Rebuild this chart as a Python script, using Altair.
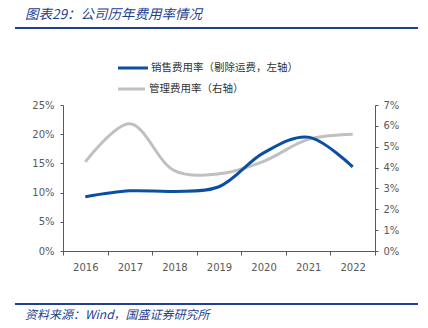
import altair as alt
import pandas as pd

years = ["2016", "2017", "2018", "2019", "2020", "2021", "2022"]
sales_rate = [0.093, 0.103, 0.102, 0.110, 0.168, 0.195, 0.144]
admin_rate = [0.0427, 0.061, 0.0385, 0.037, 0.043, 0.0535, 0.056]
sales_name = "销售费用率（剔除运费，左轴）"
admin_name = "管理费用率（右轴）"
left_ticks = [0, 0.05, 0.10, 0.15, 0.20, 0.25]
right_ticks = [0, 0.01, 0.02, 0.03, 0.04, 0.05, 0.06, 0.07]
title_text = "图表29：公司历年费用率情况"
source_text = "资料来源：Wind，国盛证券研究所"

BLUE = "#0b4ea2"
GRAY = "#c0c0c0"
HEAD = "#1f3f8f"
AX = "#595959"
FONT = "DejaVu Sans"
CJK = "Noto Sans CJK SC"

df = pd.DataFrame({"year": years, "sales": sales_rate, "admin": admin_rate})

xscale = alt.Scale(type="band", paddingInner=0, paddingOuter=0)
xaxis = alt.Axis(title=None, tickBand="extent", labelAngle=0, labelFont=FONT,
                 labelFontSize=10, labelColor=AX, domainColor=AX, tickColor=AX,
                 tickSize=4, labelPadding=7, grid=False)

base = alt.Chart(df)

sales_line = base.mark_line(color=BLUE, strokeWidth=3, interpolate="catmull-rom").encode(
    x=alt.X("year:O", scale=xscale, axis=xaxis),
    y=alt.Y("sales:Q", scale=alt.Scale(domain=[0, 0.25], nice=False),
            axis=alt.Axis(title=None, values=left_ticks, format=".0%", orient="left",
                          labelFont=FONT, labelFontSize=10, labelColor=AX,
                          domainColor=AX, tickColor=AX, tickSize=3, labelPadding=6,
                          grid=False)),
)

admin_line = base.mark_line(color=GRAY, strokeWidth=3, interpolate="catmull-rom").encode(
    x=alt.X("year:O", scale=xscale, axis=xaxis),
    y=alt.Y("admin:Q", scale=alt.Scale(domain=[0, 0.07], nice=False),
            axis=alt.Axis(title=None, values=right_ticks, format=".0%", orient="right",
                          labelFont=FONT, labelFontSize=10, labelColor=AX,
                          domainColor=AX, tickColor=AX, tickSize=3, labelPadding=5,
                          grid=False)),
)

lines = alt.layer(admin_line, sales_line).resolve_scale(y="independent")

deco_df = pd.DataFrame({"k": [0]})
deco = alt.Chart(deco_df)

title = deco.mark_text(text=title_text, font=CJK, fontSize=13.5, fontStyle="italic",
                       color=HEAD, align="left", baseline="middle").encode(
    x=alt.value(-38), y=alt.value(-90))
head_rule = deco.mark_rule(color=HEAD, strokeWidth=2).encode(
    x=alt.value(-48), x2=alt.value(355), y=alt.value(-77))
foot_rule = deco.mark_rule(color=HEAD, strokeWidth=2).encode(
    x=alt.value(-48), x2=alt.value(355), y=alt.value(199))
source = deco.mark_text(text=source_text, font=CJK, fontSize=12, fontStyle="italic",
                        color=HEAD, align="left", baseline="middle").encode(
    x=alt.value(-38), y=alt.value(210))

leg1_rule = deco.mark_rule(color=BLUE, strokeWidth=3).encode(
    x=alt.value(55), x2=alt.value(85), y=alt.value(-37))
leg1_text = deco.mark_text(text=sales_name, font=CJK, fontSize=10.5, color="#333333",
                           align="left", baseline="middle").encode(
    x=alt.value(88), y=alt.value(-37))
leg2_rule = deco.mark_rule(color=GRAY, strokeWidth=3).encode(
    x=alt.value(55), x2=alt.value(82), y=alt.value(-16))
leg2_text = deco.mark_text(text=admin_name, font=CJK, fontSize=10.5, color="#333333",
                           align="left", baseline="middle").encode(
    x=alt.value(86), y=alt.value(-16))

chart = alt.layer(
    lines, title, head_rule, foot_rule, source, leg1_rule, leg1_text, leg2_rule, leg2_text
).resolve_scale(y="independent").properties(
    width=312, height=146,
    autosize=alt.AutoSizeParams(type="none"),
    padding={"left": 63, "top": 105, "right": 53, "bottom": 77},
    background="white",
).configure_view(stroke=None)

chart.save("out.html", embed_options={"renderer": "svg", "actions": False})
